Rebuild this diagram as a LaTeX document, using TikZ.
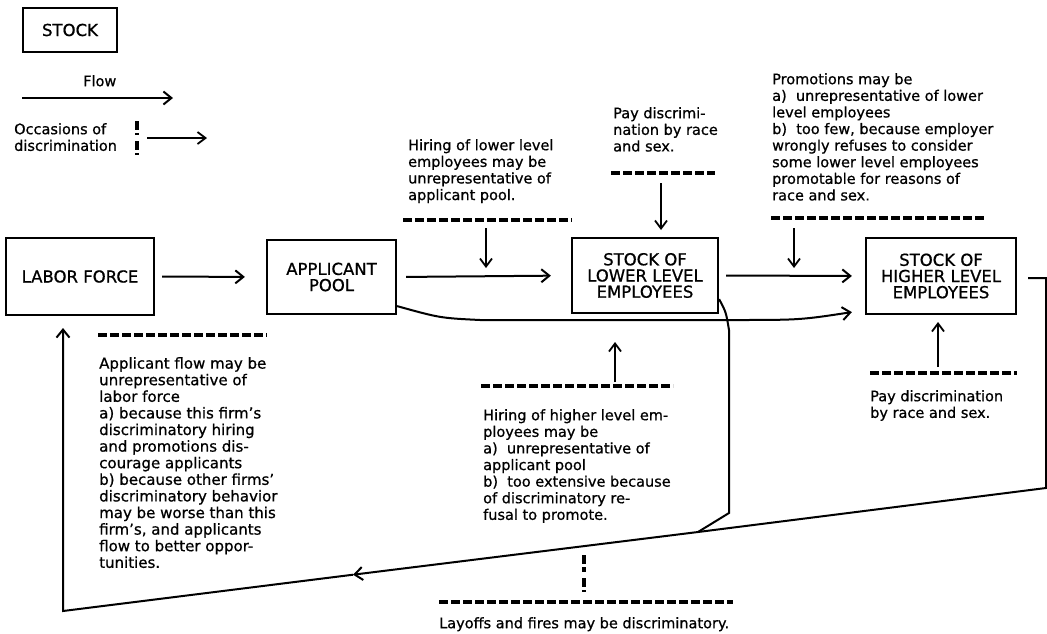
\documentclass[tikz,border=0pt]{standalone}
\usepackage{fontspec}
\setmainfont{DejaVu Sans}[FakeBold=0.8]
\usepackage{tikz}
\usetikzlibrary{arrows.meta,positioning,calc}
\newcommand{\notesize}{\fontsize{14.5}{16.6}\selectfont}
\newcommand{\boxsize}{\fontsize{16.5}{16.2}\selectfont}
\tikzstyle{stock} = [rectangle, draw, line width=2.2pt, inner sep=0pt, align=center, font=\boxsize]
\tikzstyle{note} = [inner sep=0pt, anchor=north west, align=left, font=\notesize]
\tikzstyle{flow} = [line width=2pt, -{Straight Barb[length=8pt,width=13pt]}]
\tikzstyle{occasion} = [line width=1.8pt, -{Straight Barb[length=8pt,width=12pt]}]
\tikzstyle{bar} = [line width=3.2pt, dash pattern=on 9pt off 3pt]

\begin{document}
\begin{tikzpicture}[x=1pt, y=-1pt]
\useasboundingbox (0,0) rectangle (1047,633);
% Legend
\node[stock, minimum width=94pt, minimum height=44pt] (key) at (70,30) {STOCK};
\node[note] (keyflow) at (83,75) {Flow};
\coordinate (kf1) at (22,98);
\coordinate (kf2) at (173,98);
\draw[flow] (kf1) -- (kf2);
\node[note] (keyocc) at (14,123) {Occasions of\\discrimination};
\draw[bar] (137,121) -- (137,135);
\draw[bar] (137,141) -- (137,155);
\coordinate (ko1) at (147,138);
\coordinate (ko2) at (207,138);
\draw[occasion] (ko1) -- (ko2);

% Stocks
\node[stock, minimum width=148pt, minimum height=77pt] (lf) at (80,276.5) {LABOR FORCE};
\node[stock, minimum width=129pt, minimum height=74pt] (ap) at (331.5,277) {APPLICANT\\POOL};
\node[stock, minimum width=146pt, minimum height=75pt] (sl) at (645,275.5) {STOCK OF\\LOWER LEVEL\\EMPLOYEES};
\node[stock, minimum width=150pt, minimum height=76pt] (sh) at (941,276) {STOCK OF\\HIGHER LEVEL\\EMPLOYEES};

% Flows
\draw[flow, shorten <=7pt, shorten >=21pt] (lf.east) -- (ap.west);
\draw[flow, shorten <=9pt, shorten >=20pt] (ap.east) -- (sl.west);
\draw[flow, shorten <=7pt, shorten >=13pt] (sl.east) -- (sh.west);
\draw[flow] ($(ap.south east)+(0,-9)$) .. controls (440,318) .. (480,320) -- (730,320)
  .. controls (800,320) .. ($(sh.south west)+(-13,-3)$);

% Layoffs and the way back
\coordinate (drop) at (698,532);
\coordinate (c1) at (1046,278);
\coordinate (c2) at (1046,488);
\coordinate (mid) at (353,574.7);
\coordinate (c3) at (63,611);
\coordinate (back) at (63,328);
\draw[line width=2pt] ($(sl.south east)+(0,-15)$) .. controls (726,312) .. (729,330) -- (729,513) -- (drop);
\draw[line width=2pt] ($(sh.east)+(11,2)$) -- (c1) -- (c2) -- (drop);
\draw[flow] (drop) -- (mid);
\draw[flow] (mid) -- (c3) -- (back);

% Occasions of discrimination
\draw[bar] (403,220) -- (572,220);
\node[note] (hirelow) at (408,139) {Hiring of lower level\\employees may be\\unrepresentative of\\applicant pool.};
\coordinate (o1) at (486,228);
\coordinate (o1e) at (486,268);
\draw[occasion] (o1) -- (o1e);

\draw[bar] (611,173) -- (715,173);
\node[note] (paylow) at (613,107) {Pay discrimi-\\nation by race\\and sex.};
\coordinate (o2) at (661,183);
\coordinate (o2e) at (661,230);
\draw[occasion] (o2) -- (o2e);

\draw[bar] (771,218) -- (985,218);
\node[note] (promo) at (772,73) {Promotions may be\\a)\ \ unrepresentative of lower\\level employees\\b)\ \ too few, because employer\\wrongly refuses to consider\\some lower level employees\\promotable for reasons of\\race and sex.};
\coordinate (o3) at (794,228);
\coordinate (o3e) at (794,268);
\draw[occasion] (o3) -- (o3e);

\draw[bar] (98,335) -- (267,335);
\node[note, font=\fontsize{15}{16.6}\selectfont] (appflow) at (99,357) {Applicant flow may be\\unrepresentative of\\labor force\\a) because this firm’s\\discriminatory hiring\\and promotions dis-\\courage applicants\\b) because other firms’\\discriminatory behavior\\may be worse than this\\firm’s, and applicants\\flow to better oppor-\\tunities.};

\draw[bar] (481,386) -- (673,386);
\node[note] (hirehigh) at (483,409) {Hiring of higher level em-\\ployees may be\\a)\ \ unrepresentative of\\applicant pool\\b)\ \ too extensive because\\of discriminatory re-\\fusal to promote.};
\coordinate (o4) at (615,382);
\coordinate (o4e) at (615,342);
\draw[occasion] (o4) -- (o4e);

\draw[bar] (870,373) -- (1017,373);
\node[note] (payhigh) at (870,390) {Pay discrimination\\by race and sex.};
\coordinate (o5) at (938,367);
\coordinate (o5e) at (938,322);
\draw[occasion] (o5) -- (o5e);

\draw[bar] (584,555) -- (584,572);
\draw[bar] (584,578) -- (584,592);
\draw[bar] (439,602) -- (733,602);
\node[note] (layoffs) at (439,617) {Layoffs and fires may be discriminatory.};
\end{tikzpicture}
\end{document}
